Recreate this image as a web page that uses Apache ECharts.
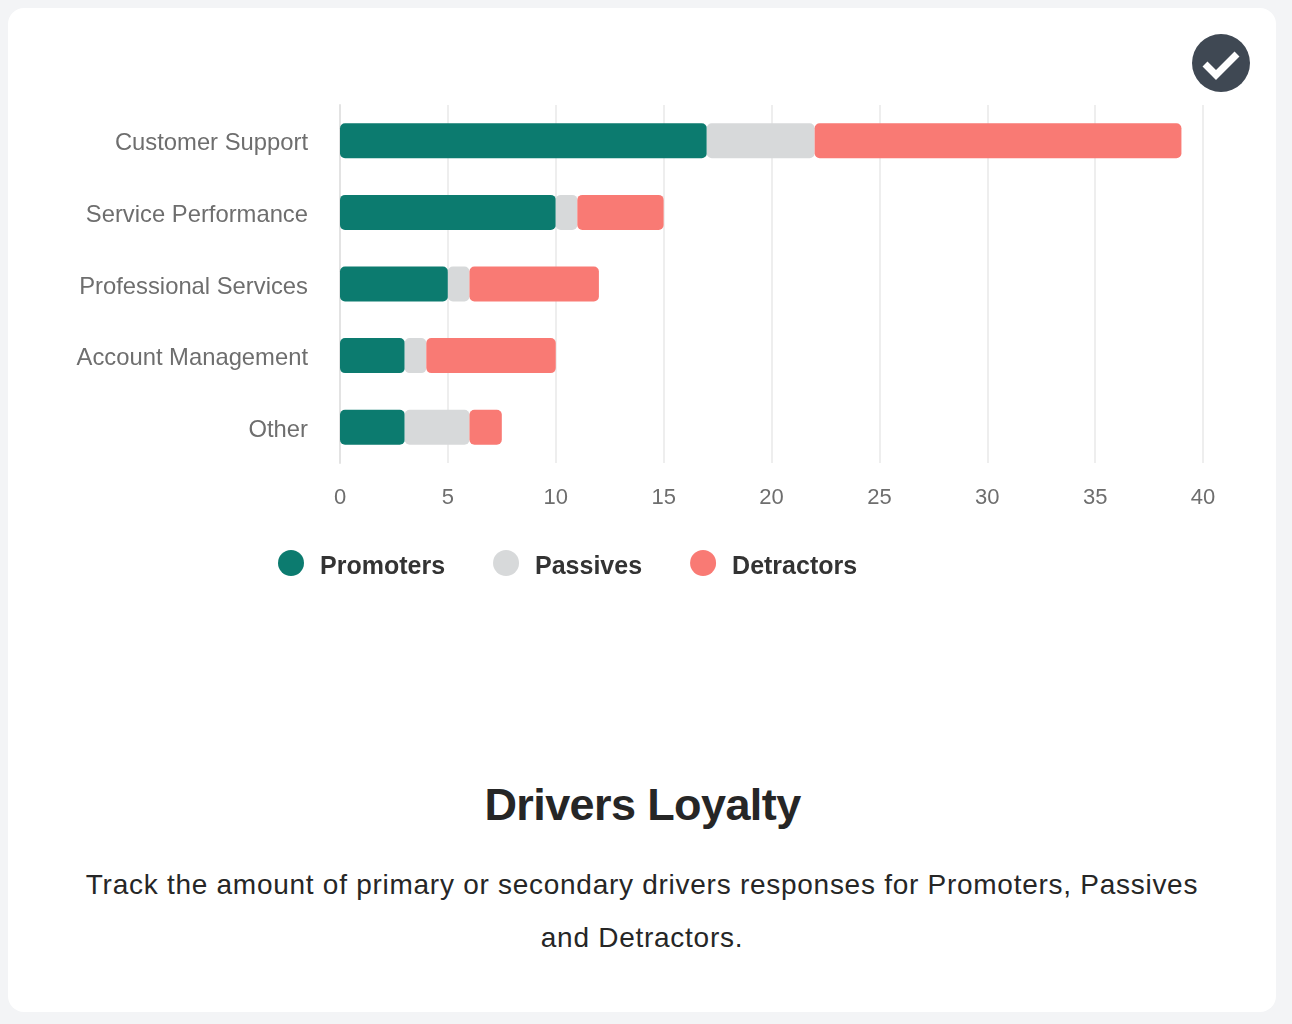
<!DOCTYPE html>
<html>
<head>
<meta charset="utf-8">
<title>Drivers Loyalty</title>
<script src="https://cdn.jsdelivr.net/npm/echarts@6/dist/echarts.min.js"></script>
<style>
  html, body { margin: 0; padding: 0; background: #f3f4f6; }
  body { width: 1292px; height: 1024px; position: relative; overflow: hidden; font-family: "Liberation Sans", sans-serif; }
  .card { position: absolute; left: 8px; top: 8px; width: 1268px; height: 1004px; background: #fff; border-radius: 16px; }
  #chart { position: absolute; left: 0; top: 0; width: 1292px; height: 700px; }
  .check { position: absolute; left: 1192px; top: 34px; }
  h1 { position: absolute; left: 0; top: 778px; width: 1285px; margin: 0; text-align: center; font-size: 45px; line-height: 54px; font-weight: bold; color: #262626; letter-spacing: -0.6px; }
  p { position: absolute; left: 80px; top: 858px; width: 1124px; margin: 0; text-align: center; font-size: 28px; line-height: 53px; color: #262626; letter-spacing: 0.73px; }
</style>
</head>
<body>
<div class="card"></div>
<div id="chart"></div>
<svg class="check" width="58" height="58" viewBox="0 0 58 58">
  <circle cx="29" cy="29" r="29" fill="#3f4853"/>
  <path d="M13 30 L24 41 L45 20" fill="none" stroke="#fff" stroke-width="7"/>
</svg>
<h1>Drivers Loyalty</h1>
<p>Track the amount of primary or secondary drivers responses for Promoters, Passives and Detractors.</p>
<script>
let categories = ['Customer Support', 'Service Performance', 'Professional Services', 'Account Management', 'Other']
let promoters = [17, 10, 5, 3, 3]
let passives = [5, 1, 1, 1, 3]
let detractors = [17, 4, 6, 6, 1.5]

function barSeries(name, values, color) {
  return {
    name: name,
    type: 'bar',
    stack: 'total',
    barWidth: 35,
    data: values,
    itemStyle: { color: color, borderRadius: 5 }
  }
}

var myChart = echarts.init(document.querySelector('#chart'))
var option = {
  animation: false,
  textStyle: { fontFamily: 'Liberation Sans' },
  grid: { left: 340, top: 105, width: 863, height: 358 },
  legend: {
    left: 273,
    top: 545,
    icon: 'circle',
    itemWidth: 26,
    itemHeight: 26,
    itemGap: 48,
    formatter: '{a|{name}}',
    textStyle: {
      padding: [0, 0, 0, 11],
      rich: { a: { fontSize: 25, fontWeight: 'bold', color: '#333', padding: [8, 0, 0, 0] } }
    }
  },
  xAxis: {
    type: 'value',
    min: 0,
    max: 40,
    interval: 5,
    axisLine: { show: false },
    axisTick: { show: false },
    splitLine: { lineStyle: { color: '#eeeeee', width: 2 } },
    axisLabel: { fontSize: 22, color: '#6e6e6e', margin: 24 }
  },
  yAxis: {
    type: 'category',
    inverse: true,
    data: categories,
    axisLine: { lineStyle: { color: '#e3e3e3', width: 2 } },
    axisTick: { show: false },
    axisLabel: { fontSize: 23.8, color: '#6e6e6e', margin: 32, verticalAlign: 'top', lineHeight: 6 }
  },
  series: [
    barSeries('Promoters', promoters, '#0c7b6f'),
    barSeries('Passives', passives, '#d7d9da'),
    barSeries('Detractors', detractors, '#f97a74')
  ]
}
myChart.setOption(option)
</script>
</body>
</html>
